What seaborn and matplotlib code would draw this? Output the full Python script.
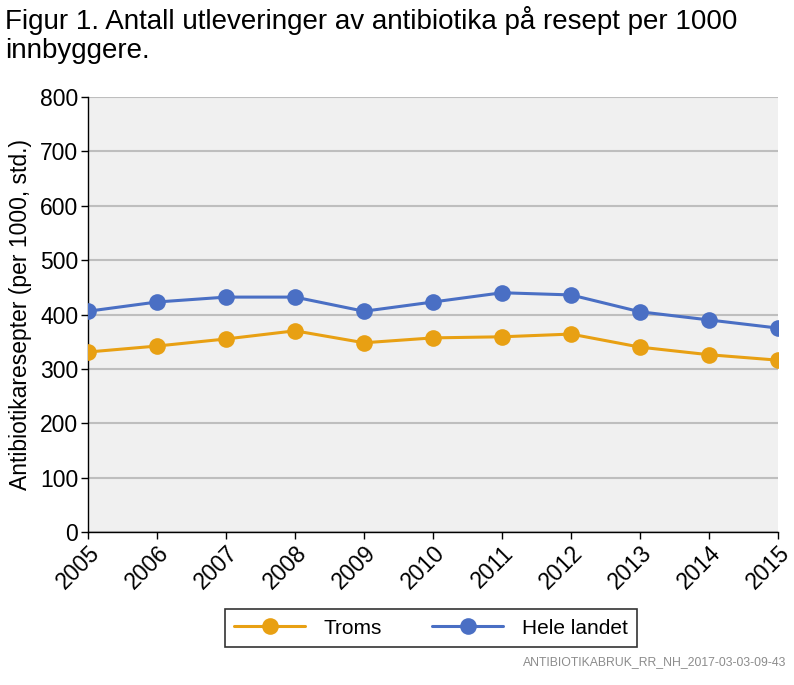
import matplotlib
matplotlib.use("Agg")
import matplotlib.pyplot as plt
import seaborn as sns
import pandas as pd
from matplotlib.lines import Line2D

years = [2005, 2006, 2007, 2008, 2009, 2010, 2011, 2012, 2013, 2014, 2015]
troms = [331, 342, 355, 370, 348, 357, 359, 364, 340, 326, 316]
hele_landet = [406, 423, 432, 432, 406, 423, 440, 436, 405, 390, 375]
series_names = ["Troms", "Hele landet"]
colors = ["#E8A013", "#4A6FC4"]

df = pd.DataFrame({
    "year": years * 2,
    "value": troms + hele_landet,
    "series": [series_names[0]] * len(years) + [series_names[1]] * len(years),
})

sns.set_theme(style="white")
plt.rcParams["font.family"] = ["Liberation Sans", "DejaVu Sans"]
plt.rcParams["text.color"] = "black"
plt.rcParams["axes.labelcolor"] = "black"
plt.rcParams["xtick.color"] = "black"
plt.rcParams["ytick.color"] = "black"

fig = plt.figure(figsize=(7.94, 6.85), dpi=100)
ax = fig.add_axes([88 / 794, 1 - 532 / 685, (778 - 88) / 794, (532 - 97) / 685])
ax.set_facecolor("#F0F0F0")

sns.lineplot(data=df, x="year", y="value", hue="series", palette=colors,
             marker="o", markersize=12, markeredgewidth=0, linewidth=2.2,
             ax=ax, legend=False, zorder=3)

ax.set_xlim(2005, 2015)
ax.set_ylim(0, 800)
ax.set_yticks(range(0, 801, 100))
ax.set_xticks(years)
ax.set_xticklabels([str(y) for y in years], rotation=45, ha="right",
                   rotation_mode="anchor", fontsize=16.5)
ax.tick_params(axis="y", labelsize=16.5, length=5, width=1, color="black",
               direction="out", left=True, pad=2, labelcolor="black")
ax.tick_params(axis="x", length=5, width=1, color="black", direction="out",
               bottom=True, pad=2, labelcolor="black")
ax.grid(axis="y", color="#BEBEBE", linewidth=1.5, zorder=1)
ax.grid(axis="x", visible=False)
for s in ["top", "right"]:
    ax.spines[s].set_visible(False)
for s in ["left", "bottom"]:
    ax.spines[s].set_color("black")
    ax.spines[s].set_linewidth(1)
ax.set_xlabel("")
ax.set_ylabel("Antibiotikaresepter (per 1000, std.)", fontsize=16.5, labelpad=6,
              color="black")

fig.text(5 / 794, 1 - 6 / 685,
         "Figur 1. Antall utleveringer av antibiotika på resept per 1000\ninnbyggere.",
         ha="left", va="top", fontsize=20, linespacing=1.15, color="black")

handles = [Line2D([0], [0], color=c, marker="o", markersize=12, markeredgewidth=0,
                  linewidth=2.2) for c in colors]
leg = fig.legend(handles, series_names, loc="center", ncol=2,
                 bbox_to_anchor=(431 / 794, 1 - 628 / 685), fontsize=15,
                 frameon=True, fancybox=False, edgecolor="black",
                 handlelength=3.4, columnspacing=2.4, borderpad=0.45,
                 handletextpad=0.9)
leg.get_frame().set_linewidth(1.2)
for t in leg.get_texts():
    t.set_color("black")

fig.text(786 / 794, 1 - 662 / 685, "ANTIBIOTIKABRUK_RR_NH_2017-03-03-09-43",
         ha="right", va="center", fontsize=8.8, color="#8C8C8C")

fig.savefig("out.png", dpi=100)
